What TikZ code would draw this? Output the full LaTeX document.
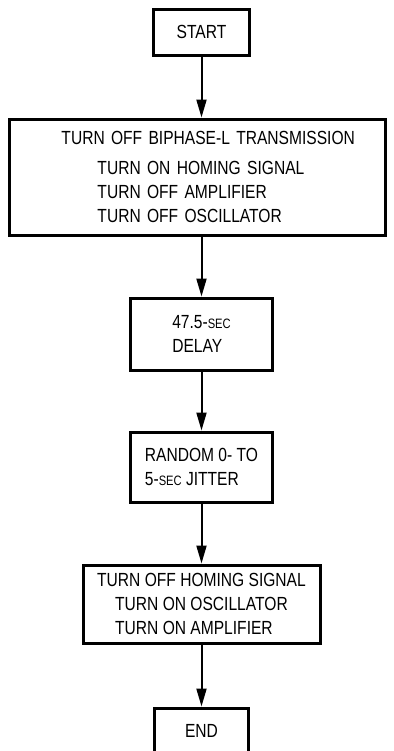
\documentclass[tikz,border=0pt]{standalone}
\usepackage{fontspec}
\setmainfont{Liberation Sans}[FakeStretch=0.82]
\usepackage{tikz}
\usetikzlibrary{arrows.meta, positioning}
\newcommand{\smsec}{{\fontsize{6.8}{6.8}\selectfont SEC}}

\begin{document}
\begin{tikzpicture}[
  node distance=30pt,
  box/.style={draw, line width=1.5pt, minimum width=48pt, minimum height=23pt,
              inner sep=0pt, align=center, font=\fontsize{9.5}{12}\selectfont},
  arrow/.style={-{Triangle[length=9pt, width=5pt]}, line width=1pt}
]
\useasboundingbox (0,0) rectangle (196.5pt,-375.5pt);

\node[box] (start) at (100.75pt,-16pt) {START};

\node[box, below=30.5pt of start, xshift=-2pt, minimum width=188pt, minimum height=58pt,
      text width=188pt, align=left] (off)
  {\hspace*{26pt}TURN OFF BIPHASE-L TRANSMISSION\\[3pt]
   \hspace*{44pt}TURN ON HOMING SIGNAL\\
   \hspace*{44pt}TURN OFF AMPLIFIER\\
   \hspace*{44pt}TURN OFF OSCILLATOR};

\node[box, below=of off, xshift=2pt, minimum width=71pt, minimum height=36pt, align=left] (delay)
  {47.5-\smsec\\DELAY};

\node[box, below=29.5pt of delay, minimum width=71pt, minimum height=35pt, align=left] (jitter)
  {RANDOM 0- TO\\5-\smsec{} JITTER};

\node[box, below=of jitter, minimum width=118.5pt, minimum height=39pt, align=left] (homeoff)
  {TURN OFF HOMING SIGNAL\\
   \hspace*{9pt}TURN ON OSCILLATOR\\
   \hspace*{9pt}TURN ON AMPLIFIER};

\node[box, below=31pt of homeoff, minimum width=47pt] (finish) {END};

\draw[arrow] (start) -- (start |- off.north);
\draw[arrow] (off.south -| delay) -- (delay);
\draw[arrow] (delay) -- (jitter);
\draw[arrow] (jitter) -- (homeoff);
\draw[arrow] (homeoff) -- (finish);
\end{tikzpicture}
\end{document}
